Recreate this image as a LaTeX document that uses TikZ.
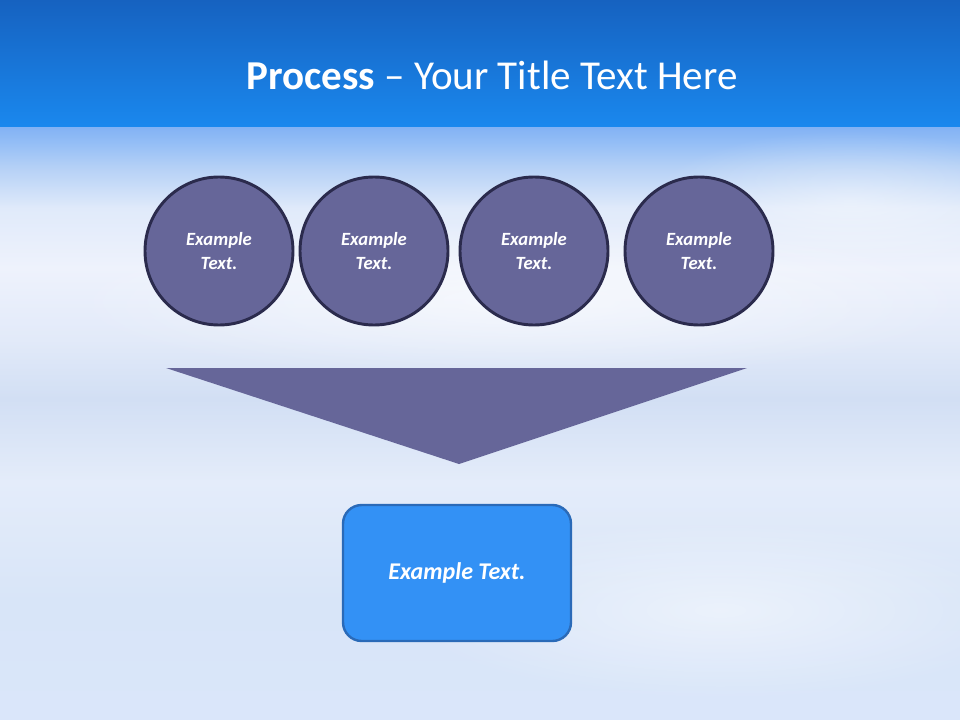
\documentclass[tikz,border=0pt]{standalone}
\usepackage{fontspec}
\setmainfont{Carlito}
\usetikzlibrary{shapes.geometric,fadings}
\definecolor{bandtop}{HTML}{1662C0}
\definecolor{bandbot}{HTML}{1A88EE}
\definecolor{circfill}{HTML}{666699}
\definecolor{circline}{HTML}{2B2B4D}
\definecolor{boxfill}{HTML}{3391F5}
\definecolor{boxline}{HTML}{2A6AB8}
\definecolor{skA}{HTML}{DAE6FA}
\definecolor{skB}{HTML}{D8E5F8}
\definecolor{skC}{HTML}{E4ECFA}
\definecolor{skD}{HTML}{D2DFF4}
\definecolor{skE}{HTML}{E2EAF9}
\definecolor{skF}{HTML}{EEF2FC}
\definecolor{skG}{HTML}{E0EAFA}
\definecolor{skH}{HTML}{B4D0F6}
\definecolor{skI}{HTML}{94BEF6}
\definecolor{skJ}{HTML}{80B0F4}
\pgfdeclareverticalshading{skyshade}{100bp}{
  color(0bp)=(skA);
  color(25bp)=(skA);
  color(35bp)=(skB);
  color(45bp)=(skC);
  color(52bp)=(skD);
  color(57bp)=(skE);
  color(63bp)=(skF);
  color(68bp)=(skG);
  color(71.5bp)=(skH);
  color(73.5bp)=(skI);
  color(75bp)=(skJ);
  color(100bp)=(skJ)}
\tikzfading[name=softblob, inner color=transparent!0, outer color=transparent!100]
\tikzset{
  proc/.style={circle, draw=circline, line width=2.2pt, fill=circfill,
    minimum size=111pt, inner sep=0pt, text=white, align=center,
    font=\fontsize{14}{17.5}\selectfont\bfseries\itshape},
  resultbox/.style={rectangle, rounded corners=14pt, draw=boxline, line width=1.8pt,
    fill=boxfill, minimum width=171pt, minimum height=102pt, text=white,
    font=\fontsize{18}{21}\selectfont\bfseries\itshape},
  funnel/.style={fill=circfill, draw=none},
  cloud/.style={fill=white, path fading=softblob}
}
\begin{document}
\begin{tikzpicture}[x=0.75pt,y=-0.75pt]
\useasboundingbox (0,0) rectangle (960,720);
% background
\shade[shading=skyshade] (0,125) rectangle (960,720);
\fill[cloud, opacity=0.6] (520,300) ellipse (460 and 80);
\fill[cloud, opacity=0.5] (720,610) ellipse (320 and 90);
\fill[cloud, opacity=0.4] (850,200) ellipse (200 and 70);
\shade[top color=bandtop, bottom color=bandbot, draw=none] (0,0) rectangle (960,127);
\node[text=white, font=\fontsize{30.8}{36}\selectfont] (title) at (492,75)
  {\textbf{Process} – Your Title Text Here};
% circles
\node[proc] (c1) at (219,251) {Example\\Text.};
\node[proc] (c2) at (374,251) {Example\\Text.};
\node[proc] (c3) at (534,251) {Example\\Text.};
\node[proc] (c4) at (699,251) {Example\\Text.};
% funnel
\coordinate (f1) at (166,368);
\coordinate (f2) at (747,368);
\coordinate (f3) at (459,464);
\fill[funnel] (f1) -- (f2) -- (f3) -- cycle;
% result
\node[resultbox] (res) at (457,573) {Example Text.};
\end{tikzpicture}
\end{document}
